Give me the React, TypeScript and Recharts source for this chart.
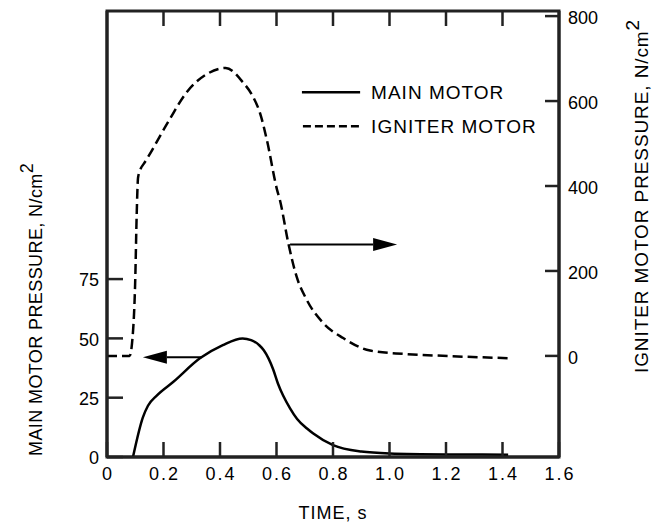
import { LineChart, Line, XAxis, YAxis, ReferenceLine, ReferenceArea } from "recharts";

const FONT = "'Liberation Sans', Arial, sans-serif";
const INK = "#222";

// axis ticks
const xTicks = [0, 0.2, 0.4, 0.6, 0.8, 1.0, 1.2, 1.4, 1.6];
const mainTicks = [0, 25, 50, 75];
const igniterTicks = [0, 200, 400, 600, 800];

// main motor pressure, N/cm2 (left axis)
const mainTime = [0.092, 0.127, 0.145, 0.177, 0.234, 0.33, 0.41, 0.48, 0.51, 0.54, 0.555, 0.588, 0.605, 0.623, 0.648, 0.673, 0.708, 0.729, 0.8, 0.9, 1.0, 1.2, 1.42];
const mainPressure = [0, 16.7, 21.6, 26, 31.6, 41.7, 47.2, 50, 49.3, 47, 45, 37, 31, 26, 20.5, 16, 12, 10, 5, 2.3, 1.5, 1.1, 1];

// igniter motor pressure, N/cm2 (right axis)
const igniterTime = [0, 0.08, 0.09, 0.1, 0.105, 0.11, 0.12, 0.13, 0.22, 0.28, 0.36, 0.42, 0.48, 0.517, 0.542, 0.566, 0.602, 0.612, 0.642, 0.671, 0.707, 0.766, 0.836, 0.931, 1.049, 1.167, 1.427];
const igniterPressure = [0, 0, 40, 180, 330, 420, 442, 452, 555, 619, 666, 678, 645, 610, 571, 508, 391, 367, 265, 187, 132, 77, 42, 12.5, 4.7, 0.8, -5.5];

// legend entries and where the legend sits (time, igniter pressure)
const seriesNames = ["MAIN MOTOR", "IGNITER MOTOR"];
const legendSpot = [[0.69, 621], [0.896, 621]];

// arrows pointing at each curve's axis: [time, pressure]
const mainArrow = [[0.336, 42], [0.127, 42]];
const igniterArrow = [[0.648, 262], [1.027, 262]];

const mainData = mainTime.map((t, i) => ({ t, p: mainPressure[i] }));
const igniterData = igniterTime.map((t, i) => ({ t, p: igniterPressure[i] }));

const Arrow = (props: any) => {
  const { x1, y1, x2, y2 } = props;
  const dir = x2 > x1 ? 1 : -1;
  const len = 24;
  const half = 6.5;
  return (
    <g>
      <line x1={x1} y1={y1} x2={x2 - dir * len} y2={y2} stroke="#000" strokeWidth={2} />
      <polygon
        points={`${x2},${y2} ${x2 - dir * len},${y2 - half} ${x2 - dir * len},${y2 + half}`}
        fill="#000"
      />
    </g>
  );
};

const LegendShape = (props: any) => {
  const { x1, y1, x2 } = props;
  const tx = x2 + 11;
  return (
    <g>
      <line x1={x1} y1={y1} x2={x2} y2={y1} stroke="#000" strokeWidth={2.5} />
      <text x={tx} y={y1 + 7} fontSize={19} letterSpacing={1} fontFamily={FONT} fill="#000">
        {seriesNames[0]}
      </text>
      <line x1={x1 + 1} y1={y1 + 34} x2={x2} y2={y1 + 34} stroke="#000" strokeWidth={2.5} strokeDasharray="8 4" />
      <text x={tx} y={y1 + 41} fontSize={19} letterSpacing={1} fontFamily={FONT} fill="#000">
        {seriesNames[1]}
      </text>
    </g>
  );
};

// short inward tick hanging from the top edge
const TopTickShape = (props: any) => {
  const { x1, y1, y2 } = props;
  const top = Math.min(y1, y2);
  return <line x1={x1} y1={top} x2={x1} y2={top + 15} stroke={INK} strokeWidth={2.5} />;
};

// ticks point into the plot, labels sit outside
const BottomTick = ({ x, y, payload }: any) => (
  <g>
    <line x1={x} y1={y} x2={x} y2={y - 15} stroke={INK} strokeWidth={2.5} />
    <text x={x + 1} y={y + 10} dy="0.71em" textAnchor="middle" fontSize={18} letterSpacing={2} fontFamily={FONT} fill="#000">
      {payload.value === 0 ? "0" : Number(payload.value).toFixed(1)}
    </text>
  </g>
);

const LeftTick = ({ x, y, payload }: any) => (
  <g>
    <line x1={x} y1={y} x2={x + 16} y2={y} stroke={INK} strokeWidth={2.5} />
    <text x={x - 8} y={y + 1} dy="0.355em" textAnchor="end" fontSize={18} fontFamily={FONT} fill="#000">
      {payload.value}
    </text>
  </g>
);

const RightTick = ({ x, y, payload }: any) => (
  <g>
    <line x1={x - 14} y1={y} x2={x} y2={y} stroke={INK} strokeWidth={2.5} />
    <text x={x + 9} y={y + 2} dy="0.355em" textAnchor="start" fontSize={18} fontFamily={FONT} fill="#000">
      {payload.value}
    </text>
  </g>
);

const LeftTitle = (props: any) => {
  const { x, y, height } = props.viewBox;
  return (
    <text
      transform={`translate(${x - 5},${y + height - 1}) rotate(-90)`}
      fontSize={18}
      letterSpacing={0.4}
      fontFamily={FONT}
      fill="#000"
    >
      MAIN MOTOR PRESSURE, N/cm<tspan dy={-9}>2</tspan>
    </text>
  );
};

const RightTitle = (props: any) => {
  const { x, y, width } = props.viewBox;
  return (
    <text
      transform={`translate(${x + width + 29},${y + 362}) rotate(-90)`}
      fontSize={19}
      letterSpacing={0.9}
      fontFamily={FONT}
      fill="#000"
    >
      IGNITER MOTOR PRESSURE, N/cm<tspan dy={-9}>2</tspan>
    </text>
  );
};

export default function App() {
  return (
    <div style={{ position: "absolute", left: 0, top: 0, width: 656, height: 526, background: "#fff" }}>
      <LineChart width={656} height={526} margin={{ top: 11, right: 37, bottom: 0, left: 47 }}>
        <XAxis
          dataKey="t"
          type="number"
          domain={[0, 1.6]}
          ticks={xTicks}
          allowDataOverflow
          height={69}
          axisLine={{ stroke: INK, strokeWidth: 3 }}
          tickLine={false}
          tickSize={0}
          tickMargin={0}
          tick={BottomTick}
          label={{ value: "TIME, s", position: "insideBottom", offset: 7, fill: "#000", fontSize: 18, fontFamily: FONT, letterSpacing: 1 }}
        />
        <YAxis
          yAxisId="main"
          orientation="left"
          type="number"
          domain={[0, 188]}
          ticks={mainTicks}
          allowDataOverflow
          width={60}
          axisLine={{ stroke: INK, strokeWidth: 3 }}
          tickLine={false}
          tickSize={0}
          tickMargin={0}
          tick={LeftTick}
          label={LeftTitle}
        />
        <YAxis
          yAxisId="igniter"
          orientation="right"
          type="number"
          domain={[-238, 812]}
          ticks={igniterTicks}
          allowDataOverflow
          width={60}
          axisLine={{ stroke: INK, strokeWidth: 3 }}
          tickLine={false}
          tickSize={0}
          tickMargin={0}
          tick={RightTick}
          label={RightTitle}
        />
        <ReferenceArea
          yAxisId="main"
          x1={0}
          x2={1.6}
          y1={0}
          y2={188}
          fill="none"
          stroke={INK}
          strokeWidth={3}
        />
        {xTicks.slice(1, -1).map((t) => (
          <ReferenceLine key={t} yAxisId="main" segment={[{ x: t, y: 188 }, { x: t, y: 182 }]} shape={TopTickShape} />
        ))}
        <Line
          yAxisId="main"
          data={mainData}
          dataKey="p"
          name={seriesNames[0]}
          type="monotone"
          stroke="#000"
          strokeWidth={2.5}
          dot={false}
          isAnimationActive={false}
        />
        <Line
          yAxisId="igniter"
          data={igniterData}
          dataKey="p"
          name={seriesNames[1]}
          type="monotone"
          stroke="#000"
          strokeWidth={2.5}
          strokeDasharray="10 5"
          dot={false}
          isAnimationActive={false}
        />
        <ReferenceLine
          yAxisId="main"
          segment={mainArrow.map(([x, y]) => ({ x, y }))}
          shape={Arrow}
        />
        <ReferenceLine
          yAxisId="igniter"
          segment={igniterArrow.map(([x, y]) => ({ x, y }))}
          shape={Arrow}
        />
        <ReferenceLine
          yAxisId="igniter"
          segment={legendSpot.map(([x, y]) => ({ x, y }))}
          shape={LegendShape}
        />
      </LineChart>
    </div>
  );
}
